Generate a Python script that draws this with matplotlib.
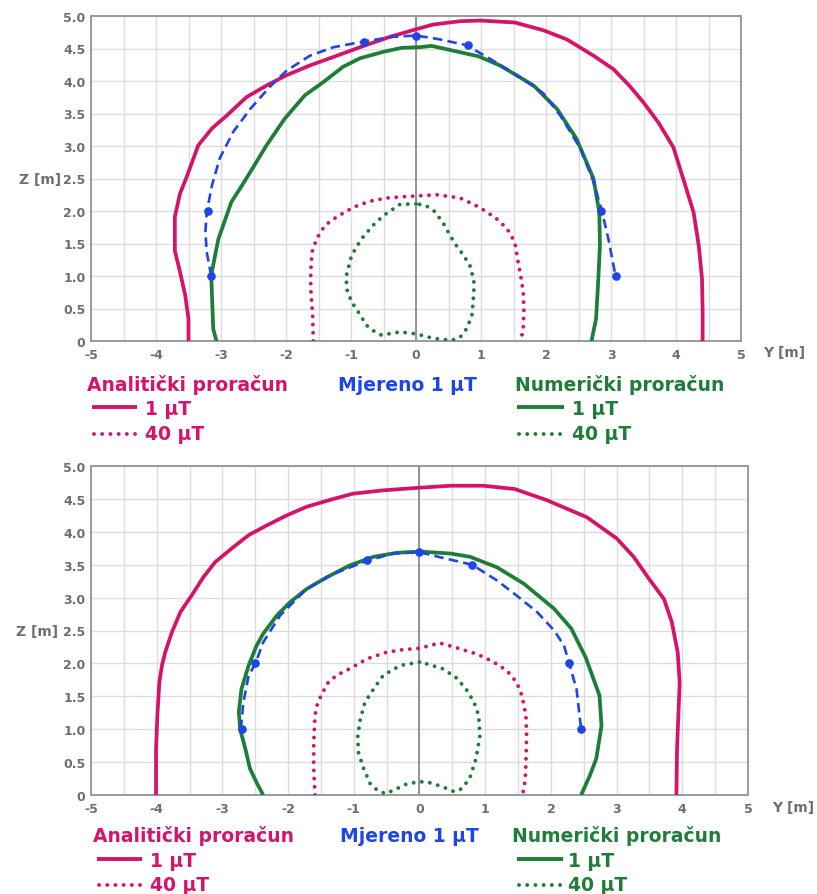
import matplotlib
matplotlib.use("Agg")
import matplotlib.pyplot as plt
from matplotlib.lines import Line2D
from matplotlib.ticker import MultipleLocator, FixedLocator, FixedFormatter

# ----------------------------------------------------
# DATA (Y [m], Z [m])
# ----------------------------------------------------

# top chart
top_anal1_y = [-3.50, -3.50, -3.55, -3.63, -3.71, -3.71, -3.63, -3.53, -3.35, -3.14,
               -2.91, -2.61, -2.30, -1.99, -1.63, -1.27, -0.86, -0.40, -0.02, 0.27,
               0.68, 0.99, 1.52, 1.96, 2.32, 2.73, 3.04, 3.29, 3.50, 3.73,
               3.96, 4.11, 4.27, 4.35, 4.40, 4.41, 4.41]
top_anal1_z = [0.00, 0.34, 0.70, 1.06, 1.39, 1.91, 2.27, 2.52, 3.01, 3.27,
               3.47, 3.75, 3.93, 4.09, 4.24, 4.37, 4.52, 4.68, 4.79, 4.87,
               4.92, 4.93, 4.90, 4.78, 4.64, 4.39, 4.18, 3.92, 3.67, 3.36,
               2.98, 2.50, 1.98, 1.47, 0.96, 0.45, 0.00]

top_num1_y = [-3.07, -3.12, -3.15, -3.09, -3.04, -2.84, -2.71, -2.50, -2.30, -2.02,
              -1.71, -1.43, -1.12, -0.86, -0.50, -0.22, 0.06, 0.24, 0.60, 0.96,
              1.29, 1.81, 2.17, 2.47, 2.73, 2.82, 2.83, 2.80, 2.77, 2.70]
top_num1_z = [0.00, 0.19, 1.01, 1.32, 1.57, 2.14, 2.34, 2.68, 3.01, 3.42,
              3.78, 3.98, 4.22, 4.35, 4.45, 4.51, 4.52, 4.54, 4.46, 4.38,
              4.24, 3.93, 3.57, 3.11, 2.50, 1.98, 1.47, 0.86, 0.34, 0.00]

top_meas_y = [-3.15, -3.20, -0.80, 0.00, 0.80, 2.85, 3.07]
top_meas_z = [1.00, 2.00, 4.60, 4.70, 4.55, 2.00, 1.00]

top_meas_line_y = [-3.15, -3.22, -3.24, -3.22, -3.14, -3.02, -2.81, -2.55, -2.25,
                   -1.99, -1.63, -1.27, -0.79, -0.35, 0.00, 0.37, 0.78, 1.14, 1.60,
                   1.96, 2.22, 2.53, 2.73, 2.86, 2.96, 3.07]
top_meas_line_z = [1.00, 1.37, 1.68, 1.98, 2.39, 2.81, 3.22, 3.57, 3.91,
                   4.16, 4.39, 4.52, 4.61, 4.68, 4.70, 4.64, 4.55, 4.34, 4.06,
                   3.81, 3.47, 2.96, 2.45, 2.00, 1.57, 1.00]

top_anal40_y = [-1.58, -1.59, -1.62, -1.62, -1.60, -1.53, -1.40, -1.22, -0.96, -0.71,
                -0.45, -0.19, 0.00, 0.32, 0.68, 0.99, 1.24, 1.40, 1.52, 1.57,
                1.61, 1.65, 1.66, 1.65, 1.61]
top_anal40_z = [0.00, 0.39, 0.81, 1.06, 1.37, 1.57, 1.78, 1.91, 2.06, 2.15,
                2.20, 2.22, 2.23, 2.25, 2.20, 2.05, 1.88, 1.73, 1.52, 1.22,
                1.01, 0.75, 0.45, 0.19, 0.00]

top_num40_y = [0.00, -0.25, -0.50, -0.66, -0.84, -0.99, -1.07, -1.07, -0.99, -0.89,
               -0.76, -0.63, -0.53, -0.25, 0.00, 0.27, 0.55, 0.68, 0.78, 0.86,
               0.89, 0.89, 0.83, 0.73, 0.62, 0.52, 0.44, 0.37, 0.27, 0.14, 0.00]
top_num40_z = [2.11, 2.10, 1.93, 1.78, 1.57, 1.32, 1.01, 0.81, 0.60, 0.45,
               0.24, 0.14, 0.09, 0.14, 0.11, 0.04, 0.01, 0.06, 0.19, 0.39,
               0.75, 0.93, 1.16, 1.32, 1.47, 1.63, 1.78, 1.88, 2.01, 2.09, 2.11]

# bottom chart
bot_anal1_y = [-4.01, -4.01, -3.99, -3.96, -3.92, -3.87, -3.77, -3.64, -3.47, -3.29,
               -3.11, -2.83, -2.60, -2.32, -2.02, -1.72, -1.31, -1.01, -0.55, 0.00,
               0.47, 0.97, 1.45, 1.94, 2.55, 3.00, 3.26, 3.49, 3.72, 3.84,
               3.93, 3.96, 3.94, 3.92, 3.91]
bot_anal1_z = [0.00, 0.70, 1.21, 1.71, 1.97, 2.17, 2.47, 2.78, 3.03, 3.31,
               3.54, 3.77, 3.95, 4.10, 4.25, 4.38, 4.50, 4.58, 4.63, 4.67,
               4.70, 4.70, 4.65, 4.48, 4.22, 3.90, 3.62, 3.29, 2.98, 2.63,
               2.17, 1.71, 1.21, 0.70, 0.00]

bot_num1_y = [-2.38, -2.48, -2.58, -2.65, -2.73, -2.75, -2.71, -2.60, -2.48, -2.38,
              -2.17, -1.97, -1.72, -1.41, -1.06, -0.70, -0.35, 0.00, 0.47, 0.77,
              1.18, 1.59, 2.05, 2.31, 2.53, 2.74, 2.77, 2.69, 2.59, 2.46]
bot_num1_z = [0.00, 0.19, 0.40, 0.70, 1.00, 1.26, 1.61, 1.97, 2.27, 2.45,
              2.73, 2.93, 3.13, 3.31, 3.49, 3.62, 3.68, 3.70, 3.67, 3.62,
              3.46, 3.21, 2.83, 2.53, 2.09, 1.51, 1.05, 0.55, 0.29, 0.00]

bot_meas_y = [-2.70, -2.50, -0.80, 0.00, 0.80, 2.28, 2.46]
bot_meas_z = [1.00, 2.00, 3.57, 3.70, 3.50, 2.00, 1.00]

bot_meas_line_y = [-2.72, -2.68, -2.60, -2.50, -2.38, -2.12, -1.72, -1.31, -0.80,
                   -0.40, 0.00, 0.37, 0.80, 1.18, 1.48, 1.79, 2.05, 2.20, 2.28,
                   2.39, 2.46]
bot_meas_line_z = [1.00, 1.41, 1.82, 1.99, 2.32, 2.73, 3.13, 3.36, 3.56,
                   3.67, 3.69, 3.60, 3.50, 3.26, 3.03, 2.78, 2.50, 2.27, 1.99,
                   1.61, 1.00]

bot_anal40_y = [-1.59, -1.61, -1.61, -1.59, -1.56, -1.50, -1.39, -1.26, -1.06, -0.80,
                -0.50, -0.24, 0.00, 0.31, 0.59, 0.88, 1.13, 1.33, 1.48, 1.56,
                1.62, 1.63, 1.62, 1.61, 1.57]
bot_anal40_z = [0.00, 0.40, 0.80, 1.21, 1.36, 1.51, 1.71, 1.82, 1.92, 2.07,
                2.17, 2.21, 2.23, 2.31, 2.23, 2.14, 2.02, 1.89, 1.71, 1.51,
                1.21, 0.90, 0.50, 0.24, 0.00]

bot_num40_y = [0.00, -0.29, -0.55, -0.70, -0.83, -0.90, -0.94, -0.93, -0.85, -0.75,
               -0.65, -0.52, -0.40, -0.19, 0.00, 0.11, 0.31, 0.53, 0.63, 0.76,
               0.86, 0.92, 0.90, 0.83, 0.71, 0.55, 0.35, 0.12, 0.00]
bot_num40_z = [2.02, 1.97, 1.82, 1.61, 1.41, 1.16, 0.90, 0.65, 0.40, 0.17,
               0.08, 0.02, 0.07, 0.17, 0.20, 0.20, 0.14, 0.05, 0.09, 0.24,
               0.55, 0.90, 1.21, 1.41, 1.61, 1.79, 1.92, 1.99, 2.02]

x_ticks = [-5, -4, -3, -2, -1, 0, 1, 2, 3, 4, 5]
x_tick_labels = ["-5", "-4", "-3", "-2", "-1", "0", "1", "2", "3", "4", "5"]
z_ticks = [0, 0.5, 1.0, 1.5, 2.0, 2.5, 3.0, 3.5, 4.0, 4.5, 5.0]
z_tick_labels = ["0", "0.5", "1.0", "1.5", "2.0", "2.5", "3.0", "3.5", "4.0", "4.5", "5.0"]

MAGENTA = "#d6136b"
GREEN = "#1e7d37"
BLUE = "#1e46e6"
GREY = "#6e6e6e"

W, H = 817, 895
DOT = (0, (0.01, 2.1))

fig = plt.figure(figsize=(W / 100, H / 100), dpi=100)


def fx(px):
    return px / W


def fy(py):
    return 1 - py / H


def make_axes(left, top, right, bottom):
    ax = fig.add_axes([fx(left), fy(bottom), (right - left) / W, (bottom - top) / H])
    ax.set_xlim(-5, 5)
    ax.set_ylim(0, 5)
    ax.xaxis.set_major_locator(FixedLocator(x_ticks))
    ax.xaxis.set_major_formatter(FixedFormatter(x_tick_labels))
    ax.xaxis.set_minor_locator(MultipleLocator(0.5))
    ax.yaxis.set_major_locator(FixedLocator(z_ticks))
    ax.yaxis.set_major_formatter(FixedFormatter(z_tick_labels))
    ax.grid(True, which="both", color="#dcdcdc", linewidth=1.0)
    ax.set_axisbelow(True)
    ax.tick_params(which="both", length=0, labelcolor=GREY, labelsize=9)
    ax.tick_params(axis="x", pad=5)
    ax.tick_params(axis="y", pad=4)
    for lab in ax.get_xticklabels() + ax.get_yticklabels():
        lab.set_fontweight("bold")
    for sp in ax.spines.values():
        sp.set_color("#9a9a9a")
        sp.set_linewidth(1.4)
    ax.axvline(0, color="#8c8c8c", linewidth=1.3, zorder=1)
    return ax


def draw_chart(ax, a1, n1, a40, n40, meas_line, meas_pts):
    kw = dict(solid_capstyle="butt", solid_joinstyle="round", zorder=3)
    ax.plot(*a40, color=MAGENTA, linewidth=2.8, linestyle=DOT,
            dash_capstyle="round", zorder=3)
    ax.plot(*n40, color=GREEN, linewidth=2.8, linestyle=DOT,
            dash_capstyle="round", zorder=3)
    ax.plot(*a1, color=MAGENTA, linewidth=2.7, **kw)
    ax.plot(*n1, color=GREEN, linewidth=2.7, **kw)
    ax.plot(*meas_line, color=BLUE, linewidth=1.9, linestyle=(0, (3.6, 2.0)),
            zorder=4)
    ax.plot(*meas_pts, color=BLUE, linestyle="none", marker="o",
            markersize=5.2, zorder=5)


def draw_legend(y_title, y_row1, y_row2, mag_x, grn_x, meas_x, mag_title_x, grn_title_x):
    txt = dict(fontsize=13.5, fontweight="bold", va="baseline", ha="left")
    fig.text(fx(mag_title_x), fy(y_title), "Analitički proračun", color=MAGENTA, **txt)
    fig.text(fx(meas_x), fy(y_title), "Mjereno 1 µT", color=BLUE, **txt)
    fig.text(fx(grn_title_x), fy(y_title), "Numerički proračun", color=GREEN, **txt)
    for (x0, x1, xt), col in ((mag_x, MAGENTA), (grn_x, GREEN)):
        fig.add_artist(Line2D([fx(x0), fx(x1)], [fy(y_row1 - 7), fy(y_row1 - 7)],
                              color=col, linewidth=2.8, solid_capstyle="butt"))
        fig.add_artist(Line2D([fx(x0 + 2), fx(x1)], [fy(y_row2 - 5), fy(y_row2 - 5)],
                              color=col, linewidth=2.8, linestyle=DOT,
                              dash_capstyle="round"))
        fig.text(fx(xt), fy(y_row1), "1 µT", color=col, **txt)
        fig.text(fx(xt), fy(y_row2), "40 µT", color=col, **txt)


def axis_labels(z_x, z_y, y_x, y_y):
    kw = dict(fontsize=10, fontweight="bold", color=GREY, va="center")
    fig.text(fx(z_x), fy(z_y), "Z [m]", ha="right", **kw)
    fig.text(fx(y_x), fy(y_y), "Y [m]", ha="left", **kw)


# top chart
ax1 = make_axes(91, 17, 741, 342)
draw_chart(ax1,
           (top_anal1_y, top_anal1_z), (top_num1_y, top_num1_z),
           (top_anal40_y, top_anal40_z), (top_num40_y, top_num40_z),
           (top_meas_line_y, top_meas_line_z), (top_meas_y, top_meas_z))
axis_labels(61, 180, 763, 353)
draw_legend(391, 415, 440, (92, 137, 145), (517, 564, 572), 338, 87, 515)

# bottom chart
ax2 = make_axes(91, 467, 748, 796)
draw_chart(ax2,
           (bot_anal1_y, bot_anal1_z), (bot_num1_y, bot_num1_z),
           (bot_anal40_y, bot_anal40_z), (bot_num40_y, bot_num40_z),
           (bot_meas_line_y, bot_meas_line_z), (bot_meas_y, bot_meas_z))
axis_labels(58, 632, 772, 808)
draw_legend(842, 867, 891, (97, 142, 150), (517, 563, 568), 340, 93, 512)

fig.savefig("out.png", dpi=100)
